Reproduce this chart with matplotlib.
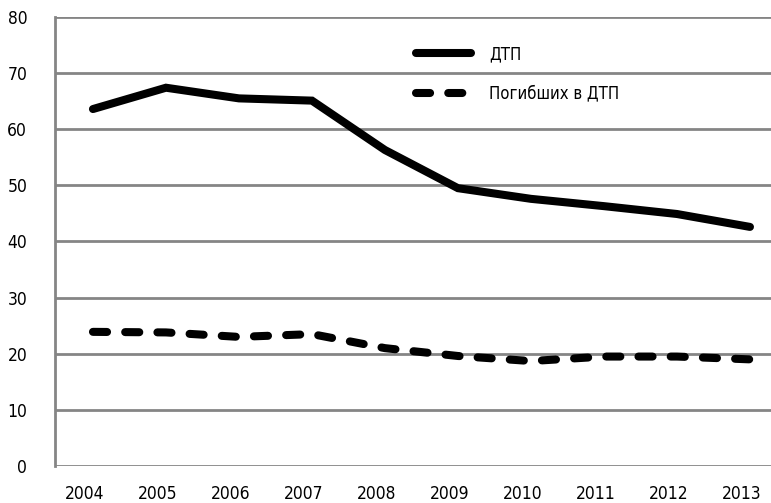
import matplotlib
matplotlib.use('Agg')
import matplotlib.pyplot as plt
import matplotlib.transforms as mtransforms

plt.rcParams['font.family'] = ['DejaVu Sans']
plt.rcParams['font.stretch'] = 'condensed'

# данные
years = ['2004', '2005', '2006', '2007', '2008', '2009', '2010', '2011', '2012', '2013']
dtp = [63.6, 67.4, 65.5, 65.1, 56.3, 49.5, 47.6, 46.3, 44.9, 42.6]
killed = [23.9, 23.8, 23.0, 23.5, 21.0, 19.6, 18.7, 19.5, 19.5, 19.0]
yticks = [0, 10, 20, 30, 40, 50, 60, 70, 80]

W, H = 771, 503
fig = plt.figure(figsize=(W / 100, H / 100), dpi=100)
ax = fig.add_axes([55 / W, 1 - 466 / H, 1 - 55 / W, (466 - 17) / H])

x = list(range(len(years)))
ax.plot(x, dtp, color='black', lw=5.8, solid_capstyle='round',
        solid_joinstyle='miter', label='ДТП', zorder=3)
ax.plot(x, killed, color='black', lw=5.8, dashes=(1.75, 2.25),
        dash_capstyle='round', label='Погибших в ДТП', zorder=3)

ax.set_ylim(0, 80)
ax.set_xlim(-0.52, -0.52 + (W - 55) / 73.0)
ax.set_yticks(yticks)
ax.set_xticks(x)
ax.set_xticklabels(years)

grid_c = '#858585'
ax.yaxis.grid(True, color=grid_c, lw=2)
ax.set_axisbelow(True)
for s in ['top', 'right', 'bottom']:
    ax.spines[s].set_visible(False)
ax.spines['left'].set_color(grid_c)
ax.spines['left'].set_linewidth(2)
ax.tick_params(axis='both', length=0, labelsize=12.5)
ax.tick_params(axis='y', pad=20)
ax.tick_params(axis='x', pad=14)

# подписи по оси X чуть левее точек
shift = mtransforms.ScaledTranslation(-8 / 100, 0, fig.dpi_scale_trans)
for lbl in ax.get_xticklabels():
    lbl.set_transform(lbl.get_transform() + shift)

ax.legend(loc='upper left', bbox_to_anchor=(416 / W, 1 - 45 / H),
          bbox_transform=fig.transFigure, frameon=False, fontsize=12,
          handlelength=3.3, handletextpad=1.1, labelspacing=1.3,
          borderpad=0, borderaxespad=0)

fig.savefig('out.png', dpi=100)
